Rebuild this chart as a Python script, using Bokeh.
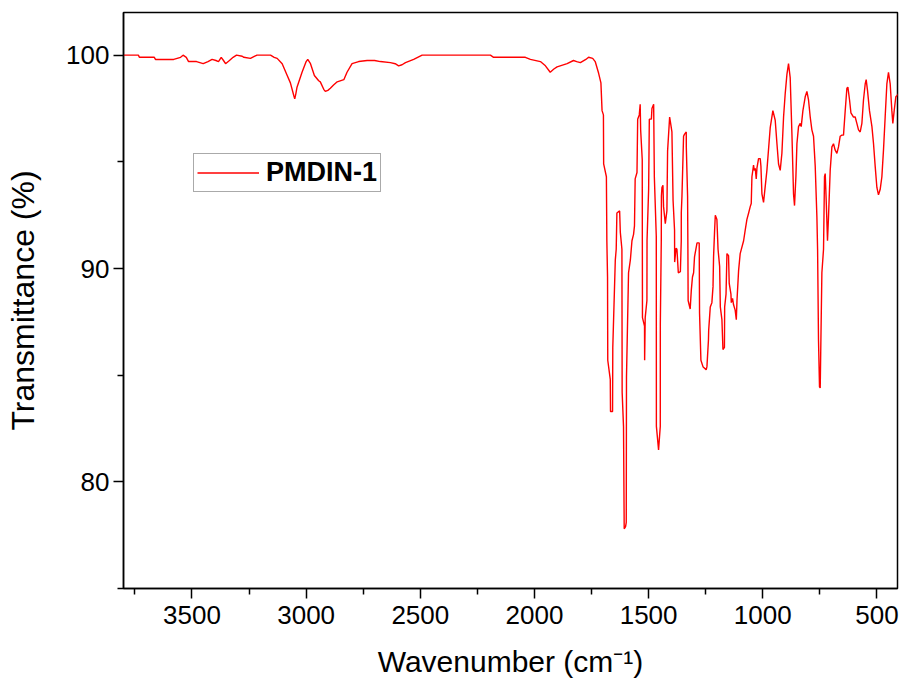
from bokeh.plotting import figure
from bokeh.models import Range1d, FixedTicker, Legend, LegendItem
from bokeh.embed import file_html
from bokeh.resources import INLINE

series_name = "PMDIN-1"
x_ticks = [3500, 3000, 2500, 2000, 1500, 1000, 500]
x_minor_ticks = [3750, 3250, 2750, 2250, 1750, 1250, 750]
y_ticks = [80, 90, 100]
y_minor_ticks = [75, 85, 95]

wavenumber = [
    3800, 3735, 3730, 3665, 3660, 3580, 3550, 3539, 3525, 3515, 3480, 3451, 3430, 3412, 3395, 3384,
    3372, 3362, 3353, 3336, 3320, 3305, 3280, 3273, 3244, 3225, 3215, 3156, 3140, 3127, 3105, 3083,
    3069, 3054, 3050, 3045, 3040, 3018, 3000, 2993, 2981, 2964, 2945, 2938, 2923, 2916, 2905, 2894,
    2880, 2864, 2835, 2821, 2799, 2770, 2733, 2700, 2675, 2631, 2610, 2595, 2580, 2565, 2529, 2492,
    2193, 2179, 2040, 2018, 1974, 1952, 1931, 1915, 1901, 1857, 1829, 1815, 1799, 1775, 1763, 1745,
    1734, 1719, 1709, 1704, 1698, 1697, 1685, 1683, 1680, 1679, 1668, 1667, 1658, 1657, 1646, 1642,
    1639, 1627, 1624, 1617, 1616, 1610, 1607, 1601, 1598, 1597, 1588, 1580, 1573, 1566, 1562, 1559,
    1551, 1548, 1541, 1537, 1535, 1528, 1527.5, 1527, 1518, 1517.5, 1515, 1507.5, 1507, 1500, 1497, 1488,
    1485.5, 1478, 1475, 1466.5, 1466, 1456.5, 1449, 1448.8, 1444.6, 1444, 1441.7, 1437.3, 1434.6, 1427, 1420, 1417,
    1408, 1405, 1398, 1393, 1386.5, 1386, 1380, 1376, 1370, 1361, 1357.1, 1357, 1354, 1347, 1342.6, 1335.2,
    1335, 1329.4, 1328, 1327, 1318, 1313, 1308, 1303, 1299, 1288, 1278.5, 1277, 1271, 1262, 1248, 1244.6,
    1238, 1237, 1230, 1223, 1218, 1215.6, 1211, 1208, 1201, 1196, 1189, 1186, 1179, 1174.5, 1168, 1167,
    1161, 1157, 1150, 1147, 1139.5, 1138, 1132.5, 1128, 1121, 1116, 1113, 1106, 1099, 1084, 1077, 1069.5,
    1062, 1055, 1050.6, 1047.6, 1040.5, 1037.4, 1033, 1028.7, 1025.6, 1018.6, 1011.2, 1008.2, 1003.8, 996.7, 982, 967.5,
    955.8, 945.6, 938, 931, 923.7, 916.3, 909, 901.8, 894.3, 887.3, 880, 872.4, 865.4, 861, 855, 850.5,
    843.5, 836, 831.7, 824.3, 814.2, 806.8, 799.7, 792.3, 785, 777.8, 770.4, 763, 760, 756, 751.6, 748.5,
    745.5, 741.2, 734, 729.7, 726.6, 722.3, 716.6, 712.2, 704.8, 697.3, 690.3, 683, 675.4, 668.4, 661, 653.6,
    646.5, 639, 631.7, 627.3, 620, 614, 602.7, 595.3, 588, 580.8, 573.4, 566, 559, 551.5, 547.2, 541.4,
    532.7, 522, 515, 507.8, 500.3, 493.3, 486, 478.4, 471.4, 464, 456.6, 449.5, 442, 434.7, 430.4, 424.5,
    417.3, 412.8, 405,
]
transmittance = [
    100.0, 100.0, 99.9, 99.9, 99.8, 99.8, 99.9, 100.0, 99.9, 99.7, 99.7, 99.6, 99.7, 99.8, 99.75, 99.7,
    99.9, 99.75, 99.6, 99.75, 99.9, 100.0, 99.95, 99.9, 99.85, 99.95, 100.0, 100.0, 99.9, 99.85, 99.6, 99.05,
    98.7, 98.1, 97.95, 98.2, 98.5, 99.2, 99.7, 99.8, 99.6, 99.05, 98.8, 98.75, 98.4, 98.3, 98.35, 98.45,
    98.6, 98.75, 98.85, 99.2, 99.6, 99.7, 99.75, 99.75, 99.7, 99.65, 99.6, 99.5, 99.55, 99.65, 99.8, 100.0,
    100.0, 99.9, 99.9, 99.8, 99.7, 99.5, 99.2, 99.35, 99.45, 99.6, 99.75, 99.7, 99.65, 99.8, 99.9, 99.85,
    99.7, 99.15, 98.7, 97.4, 97.2, 94.9, 94.3, 91.3, 89.6, 85.7, 84.8, 83.3, 83.3, 86.3, 90.4, 90.9,
    92.6, 92.7, 91.7, 90.9, 84.2, 82.6, 77.8, 77.9, 78.1, 84.9, 89.8, 90.4, 91.3, 91.6, 92.0, 94.2,
    94.5, 97.0, 97.2, 97.7, 96.5, 95.1, 90.9, 87.7, 87.3, 85.7, 87.7, 88.5, 91.3, 93.7, 97.0, 97.0,
    97.5, 97.7, 94.3, 91.5, 82.6, 81.5, 82.6, 87.4, 91.3, 93.4, 93.8, 93.9, 92.9, 92.1, 92.7, 95.5,
    97.1, 96.9, 96.4, 93.2, 91.8, 90.3, 90.95, 90.9, 89.8, 89.85, 91.3, 92.6, 93.4, 96.2, 96.3, 96.4,
    95.7, 93.4, 90.9, 88.5, 88.1, 89.0, 89.6, 89.8, 90.55, 91.2, 91.2, 87.9, 85.7, 85.4, 85.25, 85.4,
    86.65, 87.1, 88.2, 88.4, 89.15, 90.55, 91.8, 92.5, 92.3, 90.9, 90.1, 88.2, 87.6, 86.2, 86.3, 88.2,
    88.8, 90.7, 90.6, 89.3, 88.8, 88.4, 88.6, 88.3, 88.05, 87.6, 88.5, 89.9, 90.7, 91.3, 91.8, 92.3,
    92.6, 92.9, 93.05, 94.3, 94.85, 94.6, 94.7, 94.2, 94.7, 95.15, 95.15, 94.8, 93.5, 93.1, 94.6, 96.6,
    97.4, 96.95, 95.85, 94.9, 94.6, 95.4, 97.1, 98.2, 99.1, 99.6, 98.95, 96.3, 93.5, 92.95, 94.3, 95.85,
    96.65, 96.8, 96.65, 97.4, 98.05, 98.3, 97.9, 97.1, 96.5, 96.2, 94.8, 92.4, 90.9, 86.65, 84.45, 84.4,
    86.65, 89.8, 90.9, 94.3, 94.45, 93.2, 91.3, 92.4, 94.6, 95.7, 95.85, 95.55, 95.4, 95.7, 96.2, 96.25,
    96.25, 97.4, 98.45, 98.5, 97.9, 97.3, 97.1, 97.1, 96.8, 96.5, 96.4, 96.8, 97.9, 98.65, 98.85, 98.35,
    97.4, 96.65, 95.85, 94.8, 93.8, 93.45, 93.7, 94.3, 95.55, 97.1, 98.65, 99.2, 98.65, 97.4, 96.8, 97.4,
    98.05, 98.1, 98.2,
]

FONT = "Liberation Sans"

p = figure(width=903, height=692, output_backend="svg", toolbar_location=None,
           x_range=Range1d(3800, 410), y_range=Range1d(75, 102),
           min_border_left=123, min_border_right=6, min_border_top=12, min_border_bottom=104)
p.background_fill_color = "white"
p.border_fill_color = "white"
p.grid.visible = False
p.outline_line_color = "black"
p.outline_line_width = 1.5
p.outline_line_alpha = 1.0

r = p.line(wavenumber, transmittance, line_color="#FF0000", line_width=1.4)

for ax in (p.xaxis[0], p.yaxis[0]):
    ax.axis_line_color = "black"
    ax.axis_line_width = 1.5
    ax.major_tick_line_width = 1.5
    ax.minor_tick_line_width = 1.5
    ax.major_tick_in = 0
    ax.major_tick_out = 10
    ax.minor_tick_in = 0
    ax.minor_tick_out = 6
    ax.major_label_text_font = FONT
    ax.major_label_text_font_size = "26px"
    ax.major_label_text_color = "black"
    ax.axis_label_text_font = FONT
    ax.axis_label_text_font_style = "normal"
    ax.axis_label_text_color = "black"

p.xaxis.axis_label_text_font_size = "30px"
p.yaxis.axis_label_text_font_size = "32px"
p.xaxis.ticker = FixedTicker(ticks=x_ticks, minor_ticks=x_minor_ticks)
p.yaxis.ticker = FixedTicker(ticks=y_ticks, minor_ticks=y_minor_ticks)
p.xaxis.axis_label = "Wavenumber (cm\u207b\u00b9)"
p.yaxis.axis_label = "Transmittance (%)"
p.xaxis.major_label_standoff = 7
p.yaxis.major_label_standoff = 4
p.xaxis.axis_label_standoff = 18
p.yaxis.axis_label_standoff = 22

legend = Legend(items=[LegendItem(label=series_name, renderers=[r])],
                location=(70, 396), orientation="vertical")
legend.label_text_font = FONT
legend.label_text_font_style = "bold"
legend.label_text_font_size = "27px"
legend.label_text_color = "black"
legend.border_line_color = "#555555"
legend.border_line_width = 1
legend.background_fill_color = "white"
legend.background_fill_alpha = 1.0
legend.padding = 3
legend.spacing = 0
legend.margin = 0
legend.glyph_width = 62
legend.glyph_height = 27
legend.label_standoff = 7
legend.label_height = 27
p.add_layout(legend)

open("out.html", "w").write(file_html(p, INLINE))
